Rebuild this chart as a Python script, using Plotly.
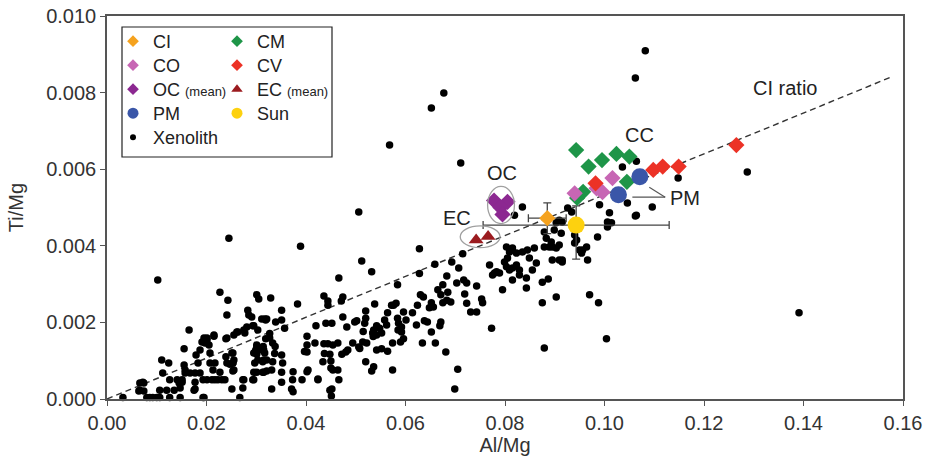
import plotly.graph_objects as go

# ---------------- data (Al/Mg, Ti/Mg) ----------------
xen_upper = [(0.0711,0.00616),(0.0506,0.00488),(0.0245,0.00420),(0.0389,0.00399),(0.0628,0.00392),
             (0.0102,0.00311),(0.0512,0.00360),(0.0715,0.00379),(0.0659,0.00352),(0.0693,0.00358),
             (0.0707,0.00342),(0.0466,0.00316),(0.0532,0.00332),(0.0584,0.00298),(0.0683,0.00321),
             (0.0717,0.00311),(0.0723,0.00303),(0.0743,0.00295),(0.0719,0.00274),(0.0723,0.00250),
             (0.0743,0.00227),(0.0731,0.00227),(0.0753,0.00261),(0.0755,0.00251),(0.0773,0.00185),
             (0.0769,0.00350),(0.0779,0.00329),(0.0705,0.00078),(0.0699,0.00026),(0.0681,0.00123),
             (0.1082,0.00909),(0.1062,0.00838),(0.1287,0.00593),(0.1391,0.00225),(0.0677,0.00799),
             (0.0652,0.00760),(0.0568,0.00663),(0.0628,0.00328)]
xen_mid_a = [(0.0630,0.00272),(0.0636,0.00266),(0.0665,0.00285),(0.0671,0.00272),(0.0685,0.00279),
             (0.0652,0.00251),(0.0656,0.00240),(0.0675,0.00251),(0.0691,0.00253),(0.0624,0.00245),
             (0.0648,0.00238),(0.0614,0.00225),(0.0596,0.00227),(0.0584,0.00211),(0.0572,0.00245),
             (0.0576,0.00245),(0.0638,0.00204),(0.0644,0.00201),(0.0671,0.00201),(0.0669,0.00191),
             (0.0652,0.00175),(0.0634,0.00146),(0.0660,0.00146),(0.0564,0.00225),(0.0558,0.00206),
             (0.0562,0.00193),(0.0586,0.00198),(0.0592,0.00188),(0.0592,0.00175),(0.0596,0.00157),
             (0.0590,0.00149),(0.0574,0.00146),(0.0564,0.00125),(0.0552,0.00131),(0.0574,0.00076),
             (0.0675,0.00298),(0.0703,0.00303),(0.0622,0.00193),(0.0683,0.00258),(0.0581,0.00250),
             (0.0601,0.00206),(0.0585,0.00180)]
xen_mid_b = [(0.0538,0.00248),(0.0520,0.00230),(0.0520,0.00211),(0.0518,0.00198),(0.0542,0.00191),
             (0.0536,0.00180),(0.0548,0.00185),(0.0542,0.00167),(0.0552,0.00172),(0.0534,0.00172),
             (0.0522,0.00146),(0.0514,0.00149),(0.0506,0.00136),(0.0542,0.00128),(0.0536,0.00084),
             (0.0532,0.00073),(0.0520,0.00097),(0.0508,0.00132),(0.0515,0.00176),(0.0535,0.00163),
             (0.0474,0.00266),(0.0474,0.00214),(0.0482,0.00188),(0.0498,0.00201),(0.0502,0.00204),
             (0.0494,0.00146),(0.0480,0.00123),(0.0484,0.00128),(0.0472,0.00117),(0.0464,0.00076),
             (0.0466,0.00050),(0.0452,0.00026),(0.0471,0.00256)]
xen_mid_c = [(0.0436,0.00269),(0.0444,0.00256),(0.0444,0.00245),(0.0440,0.00198),(0.0452,0.00198),
             (0.0420,0.00191),(0.0402,0.00164),(0.0402,0.00141),(0.0418,0.00146),(0.0436,0.00144),
             (0.0444,0.00144),(0.0448,0.00117),(0.0464,0.00146),(0.0434,0.00097),(0.0450,0.00099),
             (0.0424,0.00052),(0.0450,0.00081),(0.0454,0.00076),(0.0437,0.00119),(0.0454,0.00141),
             (0.0397,0.00124),(0.0402,0.00071),(0.0448,0.00023),(0.0451,0.00008),(0.0374,0.00071),
             (0.0374,0.00019)]
xen_left_a = [(0.0383,0.00248),(0.0402,0.00123),(0.0351,0.00232),(0.0351,0.00206),(0.0339,0.00201),
              (0.0357,0.00185),(0.0329,0.00264),(0.0321,0.00209),(0.0319,0.00206),(0.0301,0.00272),
              (0.0305,0.00261),(0.0291,0.00214),(0.0293,0.00191),(0.0283,0.00232),(0.0285,0.00219),
              (0.0303,0.00180),(0.0261,0.00175),(0.0277,0.00172),(0.0241,0.00219),(0.0243,0.00258),
              (0.0227,0.00279),(0.0241,0.00159),(0.0255,0.00167),(0.0319,0.00157),(0.0327,0.00159),
              (0.0333,0.00146),(0.0301,0.00141),(0.0299,0.00128),(0.0301,0.00117),(0.0311,0.00128),
              (0.0317,0.00120),(0.0303,0.00102),(0.0313,0.00097),(0.0321,0.00102),(0.0333,0.00097),
              (0.0353,0.00094),(0.0351,0.00070),(0.0331,0.00076),(0.0321,0.00073),(0.0313,0.00070),
              (0.0301,0.00070),(0.0293,0.00050),(0.0273,0.00050),(0.0253,0.00073),(0.0253,0.00094),
              (0.0253,0.00120),(0.0241,0.00094),(0.0239,0.00110),(0.0273,0.00029),(0.0331,0.00026),
              (0.0351,0.00044),(0.0373,0.00050),(0.0371,0.00026),(0.0392,0.00050),(0.0404,0.00076),
              (0.0424,0.00050),(0.0327,0.00171),(0.0314,0.00137),(0.0338,0.00137),(0.0337,0.00119),
              (0.0351,0.00115)]
xen_left_b = [(0.0165,0.00180),(0.0155,0.00131),(0.0110,0.00102),(0.0124,0.00094),(0.0112,0.00068),
              (0.0126,0.00050),(0.0141,0.00050),(0.0151,0.00050),(0.0157,0.00068),(0.0167,0.00068),
              (0.0177,0.00068),(0.0187,0.00068),(0.0193,0.00050),(0.0201,0.00050),(0.0211,0.00050),
              (0.0217,0.00050),(0.0223,0.00050),(0.0231,0.00050),(0.0072,0.00044),(0.0066,0.00023),
              (0.0106,0.00023),(0.0120,0.00023),(0.0147,0.00029),(0.0177,0.00026),(0.0251,0.00026),
              (0.0267,0.00004),(0.0193,0.00004),(0.0080,0.00004),(0.0086,0.00004),(0.0092,0.00004),
              (0.0100,0.00004),(0.0106,0.00004),(0.0126,0.00004),(0.0147,0.00004),(0.0032,0.00004),
              (0.0191,0.00149),(0.0201,0.00159),(0.0187,0.00128),(0.0207,0.00120),(0.0183,0.00094),
              (0.0207,0.00094),(0.0217,0.00094),(0.0213,0.00076),(0.0227,0.00070),(0.0237,0.00050),
              (0.0253,0.00094),(0.0215,0.00167),(0.0263,0.00175),(0.0275,0.00180),(0.0281,0.00188),
              (0.0295,0.00191),(0.0311,0.00209),(0.0317,0.00209),(0.0195,0.00159),(0.0201,0.00154),
              (0.0215,0.00164),(0.0197,0.00146),(0.0205,0.00141),(0.0239,0.00157),(0.0251,0.00120),
              (0.0255,0.00102),(0.0255,0.00076),(0.0247,0.00091),(0.0179,0.00115),(0.0155,0.00089),
              (0.0157,0.00076),(0.0177,0.00044),(0.0151,0.00044),(0.0145,0.00042),(0.0135,0.00023),
              (0.0066,0.00042),(0.0074,0.00042),(0.0064,0.00021),(0.0074,0.00021),(0.0175,0.00023),
              (0.0195,0.00004),(0.0275,0.00050),(0.0295,0.00050),(0.0295,0.00070),(0.0297,0.00094),
              (0.0301,0.00136),(0.0315,0.00128),(0.0315,0.00102),(0.0315,0.00070),(0.0295,0.00120)]
xen_right = [(0.0803,0.00397),(0.0809,0.00384),(0.0815,0.00394),(0.0805,0.00368),(0.0799,0.00358),
             (0.0823,0.00381),(0.0835,0.00384),(0.0845,0.00389),(0.0849,0.00368),(0.0859,0.00394),
             (0.0863,0.00355),(0.0855,0.00337),(0.0823,0.00350),(0.0815,0.00342),(0.0809,0.00337),
             (0.0829,0.00337),(0.0803,0.00345),(0.0783,0.00332),(0.0789,0.00329),(0.0775,0.00324),
             (0.0815,0.00311),(0.0829,0.00324),(0.0843,0.00316),(0.0843,0.00290),(0.0795,0.00285),
             (0.0875,0.00305),(0.0887,0.00313),(0.0895,0.00363),(0.0889,0.00397),(0.0903,0.00394),
             (0.0909,0.00402),(0.0915,0.00363),(0.0903,0.00266),(0.0875,0.00251),(0.0879,0.00133),
             (0.0835,0.00501),(0.0819,0.00480),
             (0.0926,0.00499),(0.0934,0.00488),(0.0909,0.00467),(0.0915,0.00462),(0.0903,0.00460),
             (0.0899,0.00441),(0.0913,0.00433),(0.0879,0.00436),(0.0883,0.00420),(0.0879,0.00397),
             (0.0895,0.00397),(0.0893,0.00410),(0.0909,0.00363),(0.0915,0.00358),(0.0940,0.00428),
             (0.0944,0.00415),(0.0940,0.00407),(0.0950,0.00389),(0.0956,0.00389),(0.0964,0.00397),
             (0.0954,0.00381),(0.0966,0.00363),(0.0986,0.00423),(0.1006,0.00462),(0.1010,0.00486),
             (0.1014,0.00460),(0.1006,0.00449),(0.0990,0.00507),(0.1046,0.00512),(0.1064,0.00480),
             (0.0970,0.00272),(0.0988,0.00251),(0.1004,0.00157),(0.1064,0.00621),(0.1036,0.00606),
             (0.1148,0.00577),(0.1096,0.00501),(0.1062,0.00478)]

ci_x, ci_y = [0.0885], [0.00472]
ci_ex, ci_ey = [0.0038], [0.0004]
sun_x, sun_y = [0.0943], [0.00454]
sun_ex = [0.0187]
sun_ey_plus, sun_ey_minus = [0.00050], [0.00089]
cm_x = [0.0943, 0.0968, 0.0995, 0.1024, 0.1050, 0.1045, 0.0957, 0.0945]
cm_y = [0.00650, 0.00607, 0.00624, 0.00640, 0.00633, 0.00567, 0.00541, 0.00525]
cv_x = [0.0982, 0.1098, 0.1117, 0.1149, 0.1265]
cv_y = [0.00563, 0.00598, 0.00607, 0.00607, 0.00663]
co_x = [0.0940, 0.1016, 0.0996, 0.0984]
co_y = [0.00537, 0.00577, 0.00540, 0.00550]
oc_x = [0.0778, 0.0805, 0.0791, 0.0795]
oc_y = [0.00518, 0.00515, 0.00500, 0.00482]
ec_x = [0.0742, 0.0766]
ec_y = [0.00415, 0.00424]
pm_x = [0.1071, 0.1028]
pm_y = [0.00580, 0.00533]
ratio_x = [0.0, 0.158]

x_ticks = [0.00, 0.02, 0.04, 0.06, 0.08, 0.10, 0.12, 0.14, 0.16]
y_ticks = [0.000, 0.002, 0.004, 0.006, 0.008, 0.010]

# ---------------- styles ----------------
FONT = "Liberation Sans, Arial, sans-serif"
C_CI, C_CM, C_CO, C_CV = "#F5A21E", "#1E9548", "#C766B4", "#EC3226"
C_OC, C_EC, C_PM, C_SUN = "#8C2891", "#9B1B1F", "#3A56A8", "#FDD10F"
DIA = 12.5
W, H = 926, 462
ML, MR, MT, MB = 107, 23, 16, 63
PW, PH = W - ML - MR, H - MT - MB

xen = xen_upper + xen_mid_a + xen_mid_b + xen_mid_c + xen_left_a + xen_left_b + xen_right
xen_x = [p[0] for p in xen]
xen_y = [p[1] for p in xen]

fig = go.Figure()
ratio = ci_y[0] / ci_x[0]
fig.add_trace(go.Scatter(x=ratio_x, y=[v * ratio for v in ratio_x], mode="lines",
                         line=dict(color="#333333", width=1.4, dash="6px,4px"),
                         showlegend=False, hoverinfo="skip"))
fig.add_trace(go.Scatter(x=xen_x, y=xen_y, mode="markers", cliponaxis=False,
                         marker=dict(color="black", size=7.5), showlegend=False))

ebar = dict(color="#444444", thickness=1.3, width=4)
fig.add_trace(go.Scatter(x=sun_x, y=sun_y, mode="markers", showlegend=False,
                         error_x=dict(type="data", array=sun_ex, **ebar),
                         error_y=dict(type="data", symmetric=False, array=sun_ey_plus,
                                      arrayminus=sun_ey_minus, **ebar),
                         marker=dict(color=C_SUN, size=17)))
fig.add_trace(go.Scatter(x=ci_x, y=ci_y, mode="markers", showlegend=False,
                         error_x=dict(type="data", array=ci_ex, **ebar),
                         error_y=dict(type="data", array=ci_ey, **ebar),
                         marker=dict(color=C_CI, size=DIA, symbol="diamond")))
fig.add_trace(go.Scatter(x=cm_x, y=cm_y, mode="markers", showlegend=False,
                         marker=dict(color=C_CM, size=DIA, symbol="diamond")))
fig.add_trace(go.Scatter(x=co_x, y=co_y, mode="markers", showlegend=False,
                         marker=dict(color=C_CO, size=DIA, symbol="diamond")))
fig.add_trace(go.Scatter(x=cv_x, y=cv_y, mode="markers", showlegend=False,
                         marker=dict(color=C_CV, size=DIA, symbol="diamond")))
fig.add_trace(go.Scatter(x=pm_x, y=pm_y, mode="markers", showlegend=False,
                         marker=dict(color=C_PM, size=17)))
fig.add_trace(go.Scatter(x=oc_x, y=oc_y, mode="markers", showlegend=False,
                         marker=dict(color=C_OC, size=DIA, symbol="diamond")))
fig.add_trace(go.Scatter(x=ec_x, y=ec_y, mode="markers", showlegend=False,
                         marker=dict(color=C_EC, size=13, symbol="triangle-up")))

# legend: one single-entry legend per cell, arranged in two columns
small = '<span style="font-size:13px">(mean)</span>'
legend_items = [
    ("CI", C_CI, "diamond", 9, 0, 0), ("CO", C_CO, "diamond", 9, 0, 1),
    ("OC " + small, C_OC, "diamond", 9, 0, 2), ("PM", C_PM, "circle", 11, 0, 3),
    ("Xenolith", "black", "circle", 6, 0, 4),
    ("CM", C_CM, "diamond", 9, 1, 0), ("CV", C_CV, "diamond", 9, 1, 1),
    ("EC " + small, C_EC, "triangle-up", 10, 1, 2), ("Sun", C_SUN, "circle", 11, 1, 3),
]
col_marker_px = [133, 237]
row_center_px = [41.5, 65.5, 89.5, 113.5, 137.5]
legend_layout = {}
for i, (name, color, symbol, size, col, row) in enumerate(legend_items):
    key = "legend" if i == 0 else f"legend{i + 1}"
    fig.add_trace(go.Scatter(x=[None], y=[None], mode="markers", name=name, legend=key,
                             marker=dict(color=color, symbol=symbol, size=size)))
    lx = (col_marker_px[col] - 20 - ML) / PW
    ly = 1 - (row_center_px[row] - MT) / PH
    legend_layout[key] = dict(x=lx, y=ly, xanchor="left", yanchor="middle",
                              bgcolor="rgba(0,0,0,0)", itemsizing="trace",
                              font=dict(size=18, color="#222222", family=FONT))

txt = dict(size=20, color="#222222", family=FONT)
annos = [("CC", 0.1070, 0.00689), ("CI ratio", 0.1363, 0.00812), ("OC", 0.0793, 0.00590),
         ("EC", 0.0703, 0.00473), ("PM", 0.1162, 0.00524)]
for t, ax, ay in annos:
    fig.add_annotation(x=ax, y=ay, text=t, showarrow=False, font=txt, xanchor="center", yanchor="middle")

shapes = [
    dict(type="circle", xref="x", yref="y", x0=0.0765, x1=0.0819, y0=0.00458, y1=0.00555,
         line=dict(color="#A0A0A0", width=1.3)),
    dict(type="circle", xref="x", yref="y", x0=0.0710, x1=0.0790, y0=0.00395, y1=0.00452,
         line=dict(color="#A0A0A0", width=1.3)),
    dict(type="line", xref="x", yref="y", x0=0.1090, y0=0.00553, x1=0.1122, y1=0.00527,
         line=dict(color="#555555", width=1.1)),
    dict(type="line", xref="x", yref="y", x0=0.1056, y0=0.00527, x1=0.1122, y1=0.00527,
         line=dict(color="#555555", width=1.1)),
    dict(type="rect", xref="paper", yref="paper",
         x0=(122 - ML) / PW, x1=(332 - ML) / PW, y0=1 - (157 - MT) / PH, y1=1 - (27 - MT) / PH,
         line=dict(color="#222222", width=1.2), fillcolor="rgba(0,0,0,0)", layer="above"),
]

fig.update_layout(
    width=W, height=H,
    margin=dict(l=ML, r=MR, t=MT, b=MB, autoexpand=False),
    paper_bgcolor="white", plot_bgcolor="white",
    font=dict(family=FONT, size=16, color="#333333"),
    shapes=shapes,
    **legend_layout,
    xaxis=dict(range=[0, 0.16], tickvals=x_ticks, tickformat=".2f", showgrid=False, zeroline=False,
               automargin=False,
               showline=True, mirror=True, linecolor="#555555", linewidth=1.5,
               ticks="outside", ticklen=5, tickcolor="#555555",
               tickfont=dict(size=20, color="#333333"),
               title=dict(text="Al/Mg", font=dict(size=20, color="#333333"), standoff=5)),
    yaxis=dict(range=[0, 0.010], tickvals=y_ticks, tickformat=".3f", showgrid=False, zeroline=False,
               automargin=False,
               showline=True, mirror=True, linecolor="#555555", linewidth=1.5,
               ticks="outside", ticklen=5, tickcolor="#555555",
               tickfont=dict(size=20, color="#333333"),
               title=dict(text="Ti/Mg", font=dict(size=20, color="#333333"), standoff=17)),
)

fig.write_html("out.html")
